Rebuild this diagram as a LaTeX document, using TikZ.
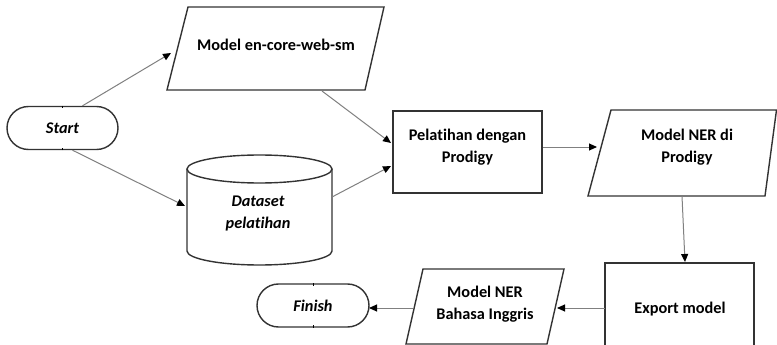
\documentclass[tikz,border=0pt]{standalone}
\usepackage{fontspec}
\setmainfont{Carlito}[Ligatures={NoCommon,NoRare}]
\usetikzlibrary{arrows.meta,calc}
\definecolor{edgec}{HTML}{333333}
\definecolor{connc}{HTML}{808080}
\begin{document}
\begin{tikzpicture}[x=1pt,y=-1pt,
  shapeline/.style={draw=edgec, line width=1.4pt},
  boxnode/.style={shapeline, inner sep=0pt},
  terminal/.style={shapeline, rounded corners=21.5pt, inner sep=0pt, minimum height=43pt, font=\fontsize{16.3}{22}\selectfont\bfseries\itshape},
  lbl/.style={font=\fontsize{16.3}{22}\selectfont\bfseries, align=center, inner sep=0pt},
  ilbl/.style={lbl, font=\fontsize{16.3}{22}\selectfont\bfseries\itshape},
  conn/.style={draw=connc, line width=1pt, -{Triangle[length=8pt,width=7pt,fill=black,color=black]}},
  tick/.style={draw=black, line width=1pt},
]
\useasboundingbox (0,0) rectangle (777,345);
\fill[white] (0,0) rectangle (777,345);

% Start terminal
\node[terminal, minimum width=111pt] (start) at (62.5,128) {Start};
\draw[tick] (start.north) -- ++(0,2.5);
\draw[tick] (start.south) -- ++(0,-2.5);

% Model en-core-web-sm (parallelogram)
\draw[shapeline] (188,7) -- (384,7) -- (365,90) -- (167,90) -- cycle;
\node[lbl] (model) at (276,44.5) {Model en-core-web-sm};
\coordinate (modelL) at (171,53);
\coordinate (modelB) at (322,91);

% Dataset pelatihan (cylinder)
\node[inner sep=0pt, minimum width=145pt, minimum height=110pt] (data) at (259.5,210) {};
\draw[shapeline, fill=white] (259.5,169) ellipse [x radius=72.5, y radius=14];
\draw[shapeline] (187,169) -- (187,251) arc[start angle=180, end angle=0, x radius=72.5, y radius=14] -- (332,169);
\node[ilbl] (datatext) at (258,213) {Dataset\\pelatihan};
\coordinate (dataL) at (185,206);
\coordinate (dataR) at (332,197);

% Pelatihan dengan Prodigy
\node[boxnode, minimum width=149pt, minimum height=82pt] (train) at (467.5,152) {};
\node[lbl] (traintext) at (467.5,147) {Pelatihan dengan\\Prodigy};
\coordinate (trainA) at (391,143);
\coordinate (trainB) at (391,166);
\coordinate (trainR) at (543,147);

% Model NER di Prodigy (parallelogram)
\draw[shapeline] (611,110) -- (776.5,110) -- (765,196) -- (588,196) -- cycle;
\node[lbl] (nerp) at (687,147) {Model NER di\\Prodigy};
\coordinate (nerpL) at (597,147);
\coordinate (nerpB) at (682,196);

% Export model
\node[boxnode, minimum width=149pt, minimum height=90pt] (export) at (679.5,308) {};
\node[lbl] (exporttext) at (680,309.5) {Export model};
\coordinate (exportT) at (685,262);
\coordinate (exportL) at (605,308);

% Model NER Bahasa Inggris (parallelogram)
\draw[shapeline] (423,269) -- (564,269) -- (547,344) -- (406,344) -- cycle;
\node[lbl] (nerb) at (485,304) {Model NER\\Bahasa Inggris};
\coordinate (nerbR) at (557,308);
\coordinate (nerbL) at (413,308);

% Finish terminal
\node[terminal, minimum width=112pt] (finish) at (313,305.5) {Finish};
\draw[tick] (finish.north) -- ++(0,2.5);
\draw[tick] (finish.south) -- ++(0,-2.5);
\coordinate (finishR) at (369,308);

% connectors
\draw[conn] ([xshift=20pt]start.north) -- (modelL);
\draw[conn] ([xshift=10pt]start.south) -- (dataL);
\draw[conn] (modelB) -- (trainA);
\draw[conn] (dataR) -- (trainB);
\draw[conn] (trainR) -- (nerpL);
\draw[conn] (nerpB) -- (exportT);
\draw[conn] (exportL) -- (nerbR);
\draw[conn] (nerbL) -- (finishR);
\end{tikzpicture}
\end{document}
